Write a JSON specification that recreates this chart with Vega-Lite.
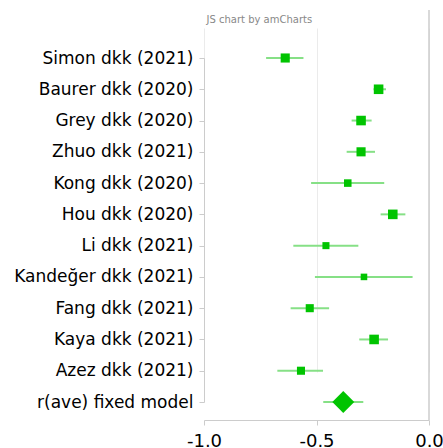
{
  "$schema": "https://vega.github.io/schema/vega-lite/v6.json",
  "width": 225,
  "height": 410,
  "autosize": {"type": "none"},
  "padding": {"left": 204, "top": 10, "right": 14, "bottom": 28},
  "config": {"view": {"stroke": null}, "font": "DejaVu Sans"},
  "data": {"values": [
    {"study": "Simon dkk (2021)", "r": -0.639, "lo": -0.724, "hi": -0.558, "weight": 10.2, "type": "study"},
    {"study": "Baurer dkk (2020)", "r": -0.224, "lo": -0.247, "hi": -0.191, "weight": 11.3, "type": "study"},
    {"study": "Grey dkk (2020)", "r": -0.302, "lo": -0.344, "hi": -0.255, "weight": 11.3, "type": "study"},
    {"study": "Zhuo dkk (2021)", "r": -0.302, "lo": -0.366, "hi": -0.240, "weight": 10.2, "type": "study"},
    {"study": "Kong dkk (2020)", "r": -0.361, "lo": -0.524, "hi": -0.199, "weight": 7.0, "type": "study"},
    {"study": "Hou dkk (2020)", "r": -0.161, "lo": -0.215, "hi": -0.105, "weight": 11.3, "type": "study"},
    {"study": "Li dkk (2021)", "r": -0.458, "lo": -0.603, "hi": -0.314, "weight": 6.1, "type": "study"},
    {"study": "Kandeğer dkk (2021)", "r": -0.289, "lo": -0.507, "hi": -0.073, "weight": 5.3, "type": "study"},
    {"study": "Fang dkk (2021)", "r": -0.530, "lo": -0.615, "hi": -0.444, "weight": 8.0, "type": "study"},
    {"study": "Kaya dkk (2021)", "r": -0.244, "lo": -0.310, "hi": -0.182, "weight": 11.3, "type": "study"},
    {"study": "Azez dkk (2021)", "r": -0.569, "lo": -0.674, "hi": -0.471, "weight": 8.0, "type": "study"},
    {"study": "r(ave) fixed model", "r": -0.381, "lo": -0.470, "hi": -0.292, "weight": 100, "type": "summary"}
  ]},
  "layer": [
    {
      "data": {"values": [{"ref": 0}]},
      "mark": {"type": "rule", "color": "#cccccc", "strokeWidth": 1.5},
      "encoding": {"x": {"field": "ref", "type": "quantitative", "scale": {"domain": [-1, 0], "nice": false}}}
    },
    {
      "mark": {"type": "rule", "color": "#86e086", "strokeWidth": 2},
      "encoding": {
        "y": {"field": "study", "type": "nominal", "sort": null, "scale": {"type": "point", "range": [48, 392], "padding": 0},
              "axis": {"title": "JS chart by amCharts", "titleAngle": 0, "titleX": 2, "titleY": 9, "titleAlign": "left", "titleBaseline": "middle", "titleFontSize": 10, "titleFontWeight": "normal", "titleColor": "#888888",
                       "labelFontSize": 17, "labelColor": "#000000", "domainColor": "#cccccc", "tickColor": "#cccccc", "tickSize": 5, "labelPadding": 6, "grid": false}},
        "x": {"field": "lo", "type": "quantitative", "scale": {"domain": [-1, 0], "nice": false},
              "axis": {"title": null, "values": [-1, -0.5, 0], "format": ".1f", "labelExpr": "replace(datum.label, '−', '-')", "labelFlush": false, "labelFontSize": 18, "labelColor": "#000000", "domainColor": "#cccccc", "tickColor": "#cccccc", "tickSize": 5, "labelPadding": 7, "grid": true, "gridColor": "#ebebeb"}},
        "x2": {"field": "hi"}
      }
    },
    {
      "transform": [{"filter": "datum.type === 'study'"}],
      "mark": {"type": "point", "shape": "square", "filled": true, "color": "#00c400", "opacity": 1},
      "encoding": {
        "y": {"field": "study", "type": "nominal", "sort": null},
        "x": {"field": "r", "type": "quantitative"},
        "size": {"field": "weight", "type": "quantitative", "scale": {"type": "linear", "domain": [0, 11.3], "range": [0, 92]}, "legend": null}
      }
    },
    {
      "transform": [{"filter": "datum.type === 'summary'"}],
      "mark": {"type": "point", "shape": "diamond", "filled": true, "color": "#00c400", "opacity": 1, "size": 480},
      "encoding": {
        "y": {"field": "study", "type": "nominal", "sort": null},
        "x": {"field": "r", "type": "quantitative"}
      }
    }
  ]
}
